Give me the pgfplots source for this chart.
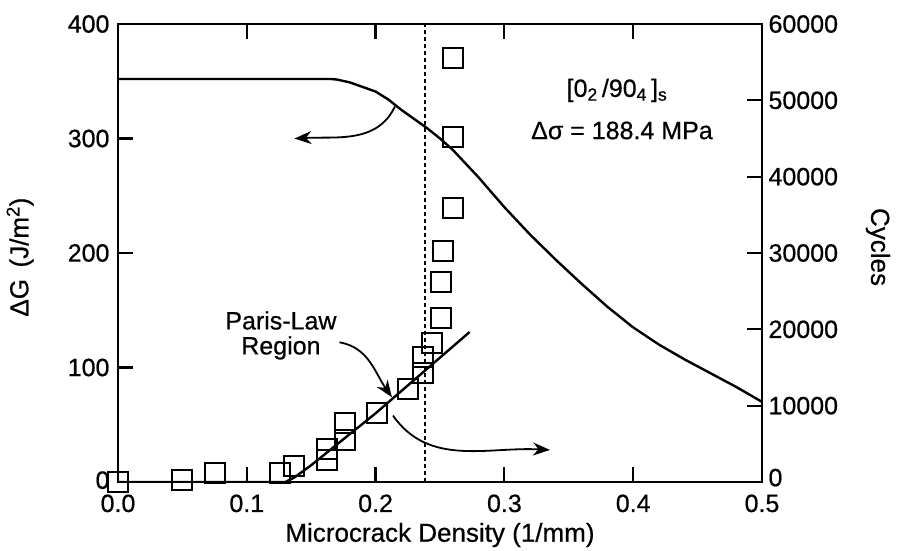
\documentclass[border=0pt]{standalone}
\usepackage{fontspec}
\setmainfont{Liberation Sans}[FakeBold=0.6]
\usepackage{pgfplots}
\pgfplotsset{compat=1.18}
\usetikzlibrary{arrows.meta}

% Delta G curve (left axis)
\pgfplotstableread{
x dg
0.000 352
0.165 352
0.170 351.5
0.180 349
0.190 345
0.200 341
0.210 334
0.220 325
0.230 317
0.240 309
0.250 300
0.260 290
0.270 278
0.280 266
0.290 253
0.300 240
0.320 216
0.340 194
0.360 173
0.380 153
0.400 135
0.420 120
0.440 107
0.460 95
0.480 83
0.500 70
}\dgcurve

% measured cycles (right axis)
\pgfplotstableread{
x n
0.000 0
0.050 300
0.075 1200
0.126 1200
0.137 2100
0.162 2900
0.162 4300
0.176 5500
0.176 7700
0.201 9000
0.225 12200
0.237 14300
0.237 16400
0.244 18200
0.251 21500
0.251 26200
0.252 30300
0.260 35900
0.260 45200
0.260 55500
}\cycles

% Paris-law fit
\pgfplotstableread{
x n
0.000 0
0.130 0
0.137 600
0.150 2200
0.200 9000
0.273 19650
}\parisfit

\begin{document}
\begin{tikzpicture}[font=\fontsize{25}{29}\selectfont]
\path[use as bounding box] (-118pt,-68pt) rectangle (780pt,482pt);
\pgfplotsset{
  every axis/.append style={
    scale only axis, width=644pt, height=458pt,
    xmin=0, xmax=0.5,
    axis line style={line width=2.2pt},
    tick style={line width=2.2pt, black},
    major tick length=15pt,
    /pgf/number format/assume math mode=true,
    /pgf/number format/1000 sep={},
    tick label style={font=\fontsize{25}{29}\selectfont},
    label style={font=\fontsize{26}{30}\selectfont},
  }
}
\begin{axis}[
  ymin=0, ymax=400,
  tick align=inside,
  xtick={0,0.1,0.2,0.3,0.4,0.5},
  xticklabel style={/pgf/number format/fixed,/pgf/number format/fixed zerofill,/pgf/number format/precision=1, yshift=-9pt},
  ytick={0,100,200,300,400},
  yticklabels={\raisebox{4pt}{0},100,200,300,400},
  yticklabel style={xshift=-5pt},
  ytick pos=left, xtick pos=both,
  xticklabel pos=bottom,
  xlabel={Microcrack Density (1/mm)},
  ylabel={ΔG\, (J/m\textsuperscript{2})},
  x label style={at={(axis description cs:0.5,-0.1157)},anchor=center},
  y label style={at={(axis description cs:-0.152,0.491)},anchor=center},
  clip=false,
]
\addplot[line width=2.4pt, black] table[x=x,y=dg] {\dgcurve};
\addplot[line width=2pt, black, dash pattern=on 4pt off 3pt] coordinates {(0.238,0) (0.238,400)};

\node at (axis cs:0.3874,342) {[0\textsubscript{2}\,/90\textsubscript{4}\,]\textsubscript{s}};
\node at (axis cs:0.3913,307) {Δσ = 188.4 MPa};
\node[align=center, font=\fontsize{25}{25}\selectfont] at (axis cs:0.1265,128) {Paris-Law\\Region};

\draw[line width=1.8pt, -{Stealth[length=17pt,width=13pt]}]
  (axis cs:0.215,328) to[out=-115,in=3] (axis cs:0.137,300);
\draw[line width=1.8pt, -{Stealth[length=17pt,width=13pt]}]
  (axis cs:0.172,122) to[out=-10,in=125] (axis cs:0.2127,74);
\draw[line width=1.8pt, -{Stealth[length=17pt,width=13pt]}]
  (axis cs:0.2135,58) to[out=-55,in=177] (axis cs:0.3354,28);
\end{axis}

\begin{axis}[
  ymin=0, ymax=60000,
  axis x line=none,
  axis y line*=right,
  tick align=inside,
  ytick={0,10000,20000,30000,40000,50000,60000},
  yticklabels={\raisebox{9pt}{0},10000,20000,30000,40000,50000,60000},
  scaled y ticks=false,
  yticklabel style={xshift=3pt},
  ylabel={Cycles},
  y label style={at={(axis description cs:1.180,0.513)},anchor=center,rotate=180},
]
\addplot[line width=2.4pt, black] table[x=x,y=n] {\parisfit};
\addplot[only marks, mark=square, mark size=10pt, mark options={line width=2pt, black, fill=none}] table[x=x,y=n] {\cycles};
\end{axis}
\end{tikzpicture}
\end{document}
